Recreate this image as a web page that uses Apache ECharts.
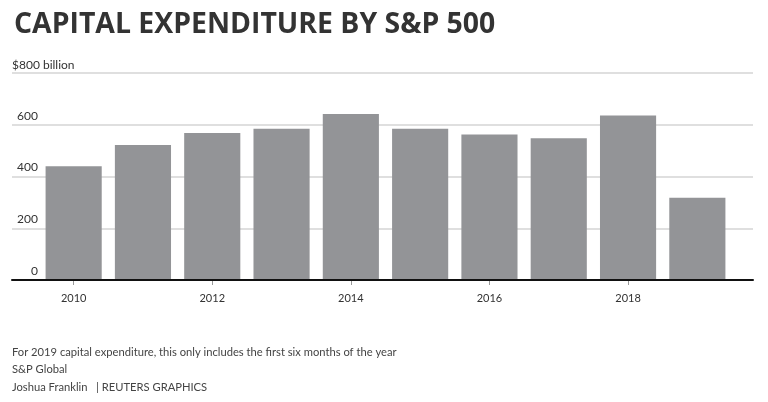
<!DOCTYPE html>
<html><head><meta charset="utf-8">
<script src="https://cdn.jsdelivr.net/npm/echarts@6/dist/echarts.min.js"></script>
<style>html,body{margin:0;padding:0;background:#fff}#c{width:768px;height:402px}</style>
</head><body><div id="c"></div>
<script>
const years = ['2010','2011','2012','2013','2014','2015','2016','2017','2018','2019'];
const capex = [440, 522, 568, 585, 642, 585, 562, 548, 636, 318];
const yTicks = [0, 200, 400, 600, 800];
const titleText = 'CAPITAL EXPENDITURE BY S&P 500';
const unitText = '$800 billion';
const notes = ['For 2019 capital expenditure, this only includes the first six months of the year', 'S&P Global', 'Joshua Franklin   | REUTERS GRAPHICS'];

const FONT = 'Lato';
const chart = echarts.init(document.getElementById('c'));
chart.setOption({
  animation: false,
  backgroundColor: '#fff',
  textStyle: { fontFamily: FONT },
  title: {
    text: titleText, left: 9, top: 6,
    textStyle: { fontFamily: 'Open Sans', fontWeight: 'bold', fontSize: 28.4, color: '#333' }
  },
  graphic: [
    { type: 'text', left: 12, top: 59, style: { text: unitText, font: '12px Lato', fill: '#333' } },
    { type: 'text', left: 12, top: 347, style: { text: notes[0], font: '11.2px Lato', fill: '#444' } },
    { type: 'text', left: 12, top: 364, style: { text: notes[1], font: '11.2px Lato', fill: '#444' } },
    { type: 'text', left: 12, top: 382, style: { text: notes[2], font: '11.2px Lato', fill: '#444' } }
  ],
  grid: [
    { left: 12, right: 15, top: 73, bottom: 122 },
    { left: 39, right: 36, top: 73, bottom: 122 }
  ],
  xAxis: [
    { gridIndex: 0, type: 'value', min: 0, max: 1, z: 5,
      axisLine: { show: true, lineStyle: { color: '#111', width: 2 } },
      axisTick: { show: false }, axisLabel: { show: false }, splitLine: { show: false } },
    { gridIndex: 1, type: 'category', data: years,
      axisLine: { show: false },
      axisTick: { show: true, alignWithLabel: true, interval: 1, length: 5, lineStyle: { color: '#999' } },
      axisLabel: { interval: 1, margin: 13, fontSize: 11, color: '#333', fontFamily: FONT } }
  ],
  yAxis: [
    { gridIndex: 0, type: 'value', min: 0, max: 800, interval: 200,
      axisLine: { show: false }, axisTick: { show: false },
      splitLine: { lineStyle: { color: '#d4d4d4', width: 1.5 } },
      axisLabel: { inside: true, align: 'right', margin: 26, verticalAlign: 'bottom', padding: [0,0,3,0],
        fontSize: 12, color: '#333', fontFamily: FONT,
        formatter: v => (v === 800 ? '' : String(v)) } },
    { gridIndex: 1, type: 'value', min: 0, max: 800, interval: 200, show: false }
  ],
  series: [{
    type: 'bar', xAxisIndex: 1, yAxisIndex: 1, data: capex,
    barCategoryGap: '19%',
    itemStyle: { color: '#939497' }
  }]
});
</script></body></html>
